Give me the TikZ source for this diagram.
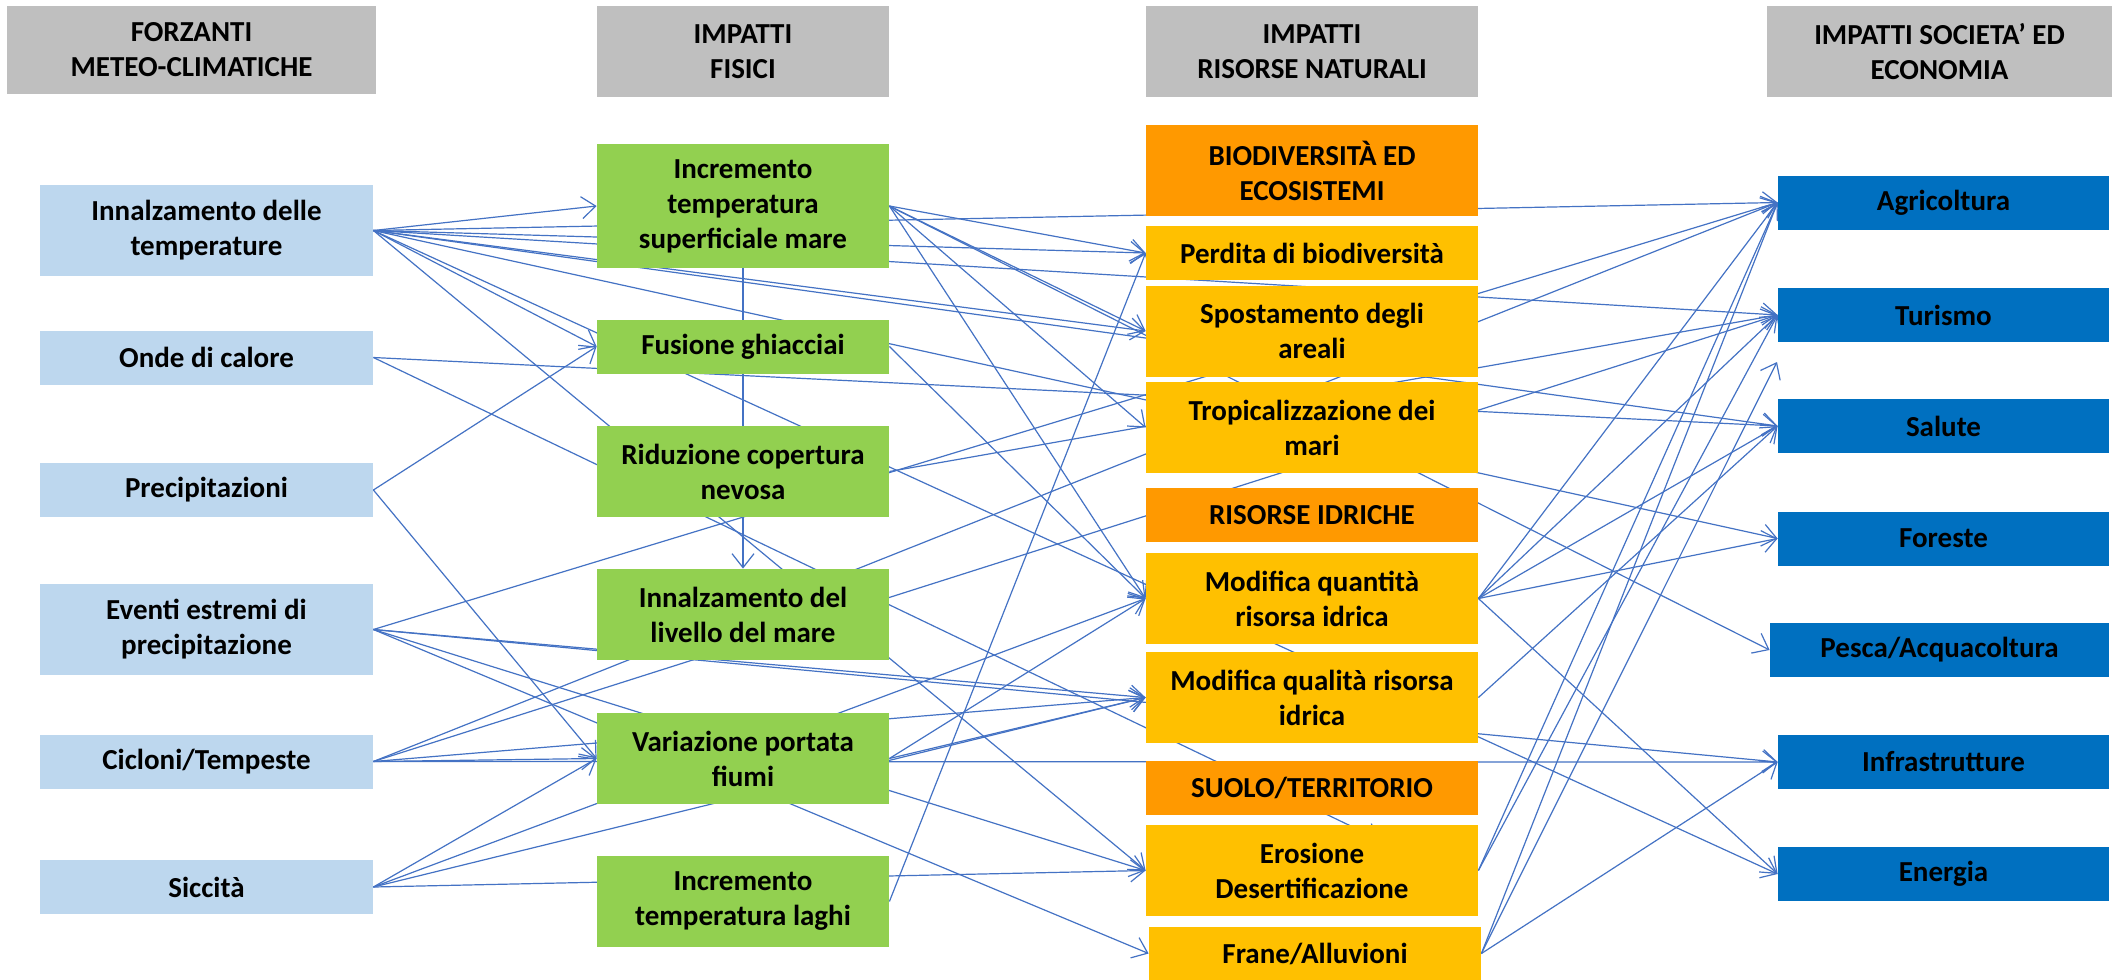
\documentclass[tikz,border=0pt]{standalone}
\usepackage{fontspec}
\setmainfont{Carlito}
\usetikzlibrary{arrows.meta,backgrounds}
\definecolor{headgray}{HTML}{BFBFBF}
\definecolor{forzblue}{HTML}{BDD7EE}
\definecolor{fisgreen}{HTML}{92D050}
\definecolor{catorange}{HTML}{FF9900}
\definecolor{risgold}{HTML}{FFC000}
\definecolor{socblue}{HTML}{0070C0}
\definecolor{linkblue}{HTML}{4472C4}

\begin{document}
\begin{tikzpicture}[x=0.5pt,y=-0.5pt,
  cell/.style={inner sep=0pt,align=center,font=\fontsize{14.5}{17.5}\selectfont\bfseries},
  tall/.style={minimum height=45.5pt},
  short/.style={minimum height=27pt},
  head/.style={cell,fill=headgray,tall},
  forz/.style={cell,fill=forzblue,minimum width=166.5pt},
  fis/.style={cell,fill=fisgreen,minimum width=146pt},
  cat/.style={cell,fill=catorange,minimum width=166pt},
  ris/.style={cell,fill=risgold,minimum width=166pt},
  soc/.style={cell,fill=socblue,minimum width=165.5pt,short},
  link/.style={draw=linkblue,line width=0.6pt,-{Straight Barb[length=7pt,width=11pt]}}
]
\useasboundingbox (0,0) rectangle (2116,980);

\node[head,minimum width=184.5pt,minimum height=44pt] (hforz) at (191.5,50) {FORZANTI\\METEO-CLIMATICHE};
\node[head,minimum width=146pt] (hfis) at (743,51.5) {IMPATTI\\FISICI};
\node[head,minimum width=166pt] (hris) at (1312,51.5) {IMPATTI\\RISORSE NATURALI};
\node[head,minimum width=172.5pt] (hsoc) at (1939.5,51.5) {IMPATTI SOCIETA’ ED\\ECONOMIA};

\node[forz,tall] (f1) at (206.5,230.5) {Innalzamento delle\\temperature};
\node[forz,short] (f2) at (206.5,357.5) {Onde di calore};
\node[forz,short] (f3) at (206.5,490) {Precipitazioni};
\node[forz,tall] (f4) at (206.5,629.5) {Eventi estremi di\\precipitazione};
\node[forz,short] (f5) at (206.5,761.5) {Cicloni/Tempeste};
\node[forz,short] (f6) at (206.5,887) {Siccità};

\node[fis,minimum height=62pt] (p1) at (743,206) {Incremento\\temperatura\\superficiale mare};
\node[fis,short] (p2) at (743,346.5) {Fusione ghiacciai};
\node[fis,tall] (p3) at (743,471.5) {Riduzione copertura\\nevosa};
\node[fis,tall] (p4) at (743,614.5) {Innalzamento del\\livello del mare};
\node[fis,tall] (p5) at (743,758.5) {Variazione portata\\fiumi};
\node[fis,tall] (p6) at (743,901.5) {Incremento\\temperatura laghi};

\node[cat,tall] (cbio) at (1312,170.5) {BIODIVERSITÀ ED\\ECOSISTEMI};
\node[ris,short] (n1) at (1312,253) {Perdita di biodiversità};
\node[ris,tall] (n2) at (1312,331) {Spostamento degli\\areali};
\node[ris,tall] (n3) at (1312,427.5) {Tropicalizzazione dei\\mari};
\node[cat,short] (cidr) at (1312,515) {RISORSE IDRICHE};
\node[ris,tall] (n4) at (1312,598.5) {Modifica quantità\\risorsa idrica};
\node[ris,tall] (n5) at (1312,697.5) {Modifica qualità risorsa\\idrica};
\node[cat,short] (csuo) at (1312,788) {SUOLO/TERRITORIO};
\node[ris,tall] (n6) at (1312,870.5) {Erosione\\Desertificazione};
\node[ris,minimum height=26.5pt] (n7) at (1315,953.5) {Frane/Alluvioni};

\node[soc] (s1) at (1943.5,202.5) {Agricoltura};
\node[soc] (s2) at (1943.5,315) {Turismo};
\node[soc] (s3) at (1943.5,426) {Salute};
\node[soc] (s4) at (1943.5,538.5) {Foreste};
\node[soc,minimum width=169.5pt] (s5) at (1939.5,650) {Pesca/Acquacoltura};
\node[soc] (s6) at (1943.5,762) {Infrastrutture};
\node[soc] (s7) at (1943.5,874) {Energia};

\coordinate (n6in) at (1380,840);
\coordinate (gap) at (1777,362);

\begin{pgfonlayer}{background}
\fill[white] (0,0) rectangle (2116,980);
\foreach \a/\b in {f1/p1,f1/p2,f1/s1,f1/n1,f1/s2,f1/n2,f1/s3,f1/s4,f1/s7,f1/n6,
  f2/s3,f3/p2,f3/p5,f4/s1,f4/n5,f4/s6,f4/n6,f4/n7,
  f5/s1,f5/s2,f5/n5,f5/p5,f5/s6,f6/p5,f6/n4,f6/n5,f6/n6,
  p1/n1,p1/n2,p1/s5,p1/n3,p1/n4,p2/n4,p3/s2,p5/n4,p5/n5,p6/n1,
  n4/s1,n4/s2,n4/s3,n4/s4,n4/s7,n5/s3,n6/s1,n6/s2,n7/s1,n7/s6}
  \draw[link] (\a.east) -- (\b.west);
\draw[link] (p1.south) -- (p4.north);
\draw[link] (f2.east) -- (n6in);
\draw[link] (n7.east) -- (gap);
\end{pgfonlayer}
\end{tikzpicture}
\end{document}
